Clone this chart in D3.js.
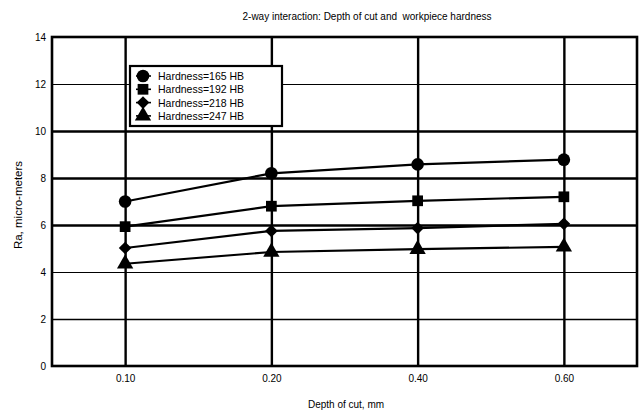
<!DOCTYPE html>
<html>
<head>
<meta charset="utf-8">
<script src="https://cdn.jsdelivr.net/npm/d3@7"></script>
<style>
  html, body { margin: 0; padding: 0; background: #fff; }
  svg { display: block; font-family: "Liberation Sans", Arial, sans-serif; }
  text { white-space: pre; }
</style>
</head>
<body>
<svg id="chart" width="642" height="413"></svg>
<script>
// Depth of cut levels (mm) and mean surface roughness Ra per hardness level
const depths = ["0.10", "0.20", "0.40", "0.60"];
const hardnessLabels = ["Hardness=165 HB", "Hardness=192 HB", "Hardness=218 HB", "Hardness=247 HB"];
const ra165 = [7.0, 8.2, 8.58, 8.78];
const ra192 = [5.93, 6.8, 7.03, 7.2];
const ra218 = [5.02, 5.75, 5.87, 6.05];
const ra247 = [4.35, 4.85, 4.97, 5.07];
const yTicks = [0, 2, 4, 6, 8, 10, 12, 14];

const seriesValues = [ra165, ra192, ra218, ra247];

// marker shapes: circle, square, wide diamond (rotated square), triangle
const symbols = [d3.symbolCircle, d3.symbolSquare, d3.symbolSquare, d3.symbolTriangle];
const symbolSizes = [125, 115, 80, 115];
const symbolRot = [0, 0, 45, 0];

const svg = d3.select("#chart");
const m = { left: 52, right: 5, top: 37, bottom: 47 };
const W = 642, H = 413;

const x = d3.scalePoint().domain(depths).range([m.left, W - m.right]).padding(0.5);
const y = d3.scaleLinear().domain([0, 14]).range([H - m.bottom, m.top]);

// horizontal grid lines with weights per level
const gridWidth = { 2: 1.5, 4: 1, 6: 2.4, 8: 2.4, 10: 2.4, 12: 1 };
const yAxis = svg.append("g")
  .attr("transform", `translate(${m.left},0)`)
  .call(d3.axisLeft(y).tickValues(yTicks).tickSize(-(W - m.right - m.left)).tickPadding(6));
yAxis.select(".domain").remove();
yAxis.selectAll(".tick line")
  .attr("stroke", "#000")
  .attr("stroke-width", d => gridWidth[d] || 0)
  .attr("opacity", d => (d === 0 || d === 14) ? 0 : 1);
yAxis.selectAll(".tick text")
  .attr("font-size", 10).attr("fill", "#000")
  .attr("font-family", "Liberation Sans, Arial, sans-serif");

// vertical grid lines at each depth
const xAxis = svg.append("g")
  .attr("transform", `translate(0,${H - m.bottom})`)
  .call(d3.axisBottom(x).tickSize(-(H - m.bottom - m.top)).tickPadding(9));
xAxis.select(".domain").remove();
xAxis.selectAll(".tick line").attr("stroke", "#000").attr("stroke-width", 2.4);
xAxis.selectAll(".tick text")
  .attr("font-size", 10).attr("fill", "#000")
  .attr("font-family", "Liberation Sans, Arial, sans-serif");

// plot frame
svg.append("rect")
  .attr("x", m.left).attr("y", m.top)
  .attr("width", W - m.right - m.left).attr("height", H - m.bottom - m.top)
  .attr("fill", "none").attr("stroke", "#000").attr("stroke-width", 2.6);

// series lines and markers
const line = d3.line().x((d, i) => x(depths[i])).y(d => y(d));
seriesValues.forEach((vals, s) => {
  svg.append("path").datum(vals)
    .attr("d", line).attr("fill", "none")
    .attr("stroke", "#000").attr("stroke-width", 2.2);
  svg.selectAll(null).data(vals).enter().append("path")
    .attr("transform", (d, i) => `translate(${x(depths[i])},${y(d)}) rotate(${symbolRot[s]})`)
    .attr("d", d3.symbol().type(symbols[s]).size(symbolSizes[s]))
    .attr("fill", "#000");
});

// legend
const lg = svg.append("g").attr("transform", "translate(130,66)");
lg.append("rect").attr("width", 152).attr("height", 60)
  .attr("fill", "#fff").attr("stroke", "#000").attr("stroke-width", 2.2);
hardnessLabels.forEach((label, i) => {
  const cy = 10 + i * 13.3;
  lg.append("line").attr("x1", 6).attr("x2", 21).attr("y1", cy).attr("y2", cy)
    .attr("stroke", "#000").attr("stroke-width", 1.6);
  lg.append("path")
    .attr("transform", `translate(13,${cy}) rotate(${symbolRot[i]})`)
    .attr("d", d3.symbol().type(symbols[i]).size(symbolSizes[i]))
    .attr("fill", "#000");
  lg.append("text").attr("x", 28).attr("y", cy + 4)
    .attr("font-size", 10.5).attr("fill", "#000").text(label);
});

// titles
svg.append("text").attr("x", 367).attr("y", 20).attr("text-anchor", "middle")
  .attr("font-size", 10).attr("fill", "#000")
  .text("2-way interaction: Depth of cut and  workpiece hardness");
svg.append("text").attr("x", 346).attr("y", 408).attr("text-anchor", "middle")
  .attr("font-size", 10).attr("fill", "#000").text("Depth of cut, mm");
svg.append("text").attr("transform", "translate(22,205) rotate(-90)")
  .attr("text-anchor", "middle").attr("font-size", 11.5).attr("fill", "#000")
  .text("Ra, micro-meters");
</script>
</body>
</html>
